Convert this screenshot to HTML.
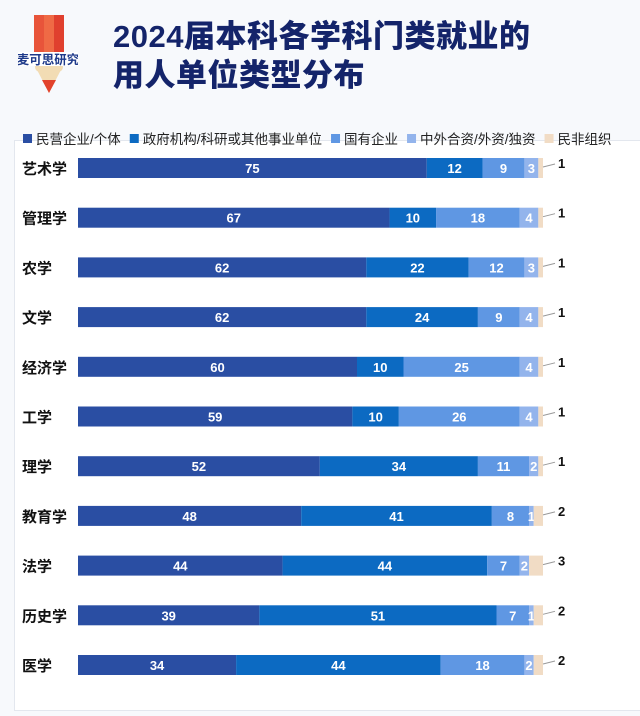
<!DOCTYPE html>
<html><head><meta charset="utf-8">
<style>
body{margin:0;width:640px;height:716px;background:#f7f9fc;font-family:"Liberation Sans","Noto Sans CJK SC",sans-serif;overflow:hidden;position:relative}
#title{position:absolute;left:113px;top:17px;font-size:31px;font-weight:900;color:#14246a;line-height:39px;letter-spacing:0.5px}
#panel{position:absolute;left:14px;top:140px;width:640px;height:569px;background:#fff;border:1px solid #e3e7ee}
</style></head><body>
<svg style="position:absolute;left:18px;top:12px" width="60" height="84" viewBox="0 0 60 84">
<rect x="16" y="3" width="10" height="40" fill="#e8543a"/><rect x="26" y="3" width="10" height="40" fill="#ef6a45"/><rect x="36" y="3" width="10" height="40" fill="#e0402e"/>
<polygon points="16,52 46,52 31,81" fill="#f2dcb4"/><polygon points="24,68 38,68 31,81" fill="#e2432c"/>
<circle cx="22" cy="55" r="5" fill="#f2dcb4"/><circle cx="31" cy="55" r="5" fill="#f2dcb4"/><circle cx="40" cy="55" r="5" fill="#f2dcb4"/>
<rect x="0" y="40" width="60" height="14" fill="#fff"/>
<text x="30" y="52" font-size="12.5" font-weight="bold" text-anchor="middle" fill="#1e3a8a" font-family="Noto Sans CJK SC,sans-serif">麦可思研究</text>
</svg>
<div id="title">2024届本科各学科门类就业的<br>用人单位类型分布</div>
<div id="panel"></div>
<svg id="chart" style="position:absolute;left:0;top:0" width="640" height="716"></svg>
<script>
const categories=["艺术学","管理学","农学","文学","经济学","工学","理学","教育学","法学","历史学","医学"];
const sPrivate=[75,67,62,62,60,59,52,48,44,39,34];
const sGov=[12,10,22,24,10,10,34,41,44,51,44];
const sState=[9,18,12,9,25,26,11,8,7,7,18];
const sForeign=[3,4,3,4,4,4,2,1,2,1,2];
const sNonprofit=[1,1,1,1,1,1,1,2,3,2,2];
const seriesNames=["民营企业/个体","政府机构/科研或其他事业单位","国有企业","中外合资/外资/独资","民非组织"];
const series=[sPrivate,sGov,sState,sForeign,sNonprofit];
const colors=["#2a4ea3","#0c6ac2","#5f97e3","#93b4ec","#f1dcc5"];
const NS="http://www.w3.org/2000/svg";
const svg=document.getElementById('chart');
const x0=78,scaleW=465,rowTop=158,rowStep=49.7,barH=20;
const xs=v=>v*scaleW/100;
const ys=i=>rowTop+i*rowStep;
function mk(t,a){const e=document.createElementNS(NS,t);for(const k in a)e.setAttribute(k,a[k]);svg.appendChild(e);return e;}
let lx=23;
seriesNames.forEach((n,i)=>{
  const r=mk('rect',{x:lx,y:134,width:9,height:9,fill:colors[i]});
  
  
  const t=mk('text',{x:lx+13,y:144,'font-size':13.5,fill:'#222'});
  t.textContent=n;
  
  
  lx+=13+t.getComputedTextLength()+9;
});
categories.forEach((c,i)=>{
  const y=ys(i);
  const lab=mk('text',{x:22,y:y+16,'font-size':15,'font-weight':'bold',fill:'#111'});
  lab.textContent=c;
  
  
  let acc=0;
  series.forEach((s,j)=>{
    const v=s[i];
    const r=mk('rect',{x:x0+xs(acc),y:y,width:xs(v),height:barH,fill:colors[j]});
    
    
    if(j<4){
      const t=mk('text',{x:x0+xs(acc+v/2),y:y+15,'font-size':13,'font-weight':'bold',fill:'#fff','text-anchor':'middle'});
      t.textContent=v;
      
      
    } else {
      const ex=x0+xs(acc+v);
      const l=mk('line',{x1:ex,y1:y+9,x2:ex+12,y2:y+6,stroke:'#999','stroke-width':1});
      
      
      const t=mk('text',{x:ex+15,y:y+10,'font-size':13,'font-weight':'bold',fill:'#111'});
      t.textContent=v;
      
      
    }
    acc+=v;
  });
});
</script>
</body></html>
